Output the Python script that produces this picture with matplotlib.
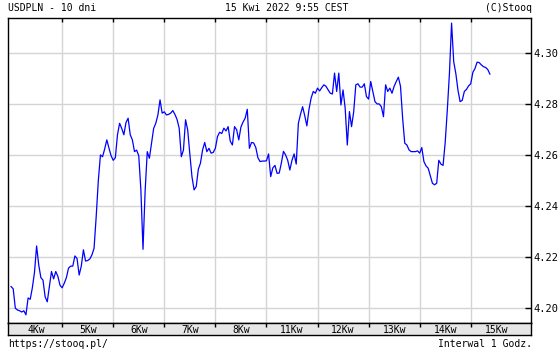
"""USDPLN 10-day hourly chart in the Stooq style."""
import matplotlib
matplotlib.use("Agg")
import matplotlib.pyplot as plt
import numpy as np

# hourly USDPLN quotes, one list per trading day
day_labels = ["4Kw", "5Kw", "6Kw", "7Kw", "8Kw", "11Kw", "12Kw", "13Kw", "14Kw", "15Kw"]
d04 = [4.2085, 4.2076, 4.2000, 4.1993, 4.1990, 4.1985, 4.1990, 4.1974, 4.2040, 4.2035, 4.2080, 4.2140,
       4.2244, 4.2170, 4.2120, 4.2110, 4.2045, 4.2025, 4.2085, 4.2144, 4.2115, 4.2144, 4.2125, 4.2090]
d05 = [4.2080, 4.2098, 4.2120, 4.2157, 4.2165, 4.2165, 4.2205, 4.2195, 4.2130, 4.2165, 4.2229, 4.2185,
       4.2187, 4.2193, 4.2209, 4.2235, 4.2359, 4.2500, 4.2601, 4.2594, 4.2625, 4.2660, 4.2628, 4.2598]
d06 = [4.2580, 4.2590, 4.2680, 4.2725, 4.2705, 4.2680, 4.2728, 4.2745, 4.2680, 4.2660, 4.2614, 4.2620,
       4.2598, 4.2464, 4.2231, 4.2460, 4.2614, 4.2588, 4.2647, 4.2705, 4.2725, 4.2758, 4.2817, 4.2765]
d07 = [4.2770, 4.2758, 4.2760, 4.2765, 4.2775, 4.2760, 4.2740, 4.2706, 4.2594, 4.2620, 4.2739, 4.2699,
       4.2605, 4.2516, 4.2464, 4.2477, 4.2545, 4.2569, 4.2621, 4.2650, 4.2614, 4.2627, 4.2608, 4.2611]
d08 = [4.2627, 4.2673, 4.2690, 4.2685, 4.2706, 4.2695, 4.2712, 4.2655, 4.2640, 4.2712, 4.2700, 4.2660,
       4.2710, 4.2730, 4.2745, 4.2780, 4.2627, 4.2650, 4.2648, 4.2630, 4.2590, 4.2575, 4.2577, 4.2577]
d11 = [4.2578, 4.2605, 4.2516, 4.2550, 4.2560, 4.2529, 4.2530, 4.2569, 4.2615, 4.2601, 4.2580, 4.2542,
       4.2580, 4.2605, 4.2565, 4.2725, 4.2760, 4.2790, 4.2755, 4.2715, 4.2780, 4.2824, 4.2850, 4.2843]
d12 = [4.2863, 4.2852, 4.2865, 4.2876, 4.2870, 4.2856, 4.2843, 4.2840, 4.2922, 4.2850, 4.2922, 4.2797,
       4.2856, 4.2784, 4.2640, 4.2771, 4.2712, 4.2770, 4.2876, 4.2880, 4.2867, 4.2867, 4.2880, 4.2830]
d13 = [4.2820, 4.2889, 4.2850, 4.2810, 4.2801, 4.2801, 4.2790, 4.2751, 4.2876, 4.2850, 4.2863, 4.2843,
       4.2870, 4.2889, 4.2906, 4.2870, 4.2745, 4.2647, 4.2640, 4.2621, 4.2614, 4.2614, 4.2614, 4.2617]
d14 = [4.2608, 4.2630, 4.2575, 4.2558, 4.2549, 4.2520, 4.2490, 4.2484, 4.2490, 4.2580, 4.2565, 4.2560,
       4.2650, 4.2778, 4.2922, 4.3118, 4.2967, 4.2920, 4.2855, 4.2810, 4.2815, 4.2850, 4.2858, 4.2872]
d15 = [4.2880, 4.2925, 4.2940, 4.2965, 4.2963, 4.2954, 4.2947, 4.2944, 4.2936, 4.2918]

prices = np.concatenate([d04, d05, d06, d07, d08, d11, d12, d13, d14, d15])
t = np.arange(len(prices)) / 24.0  # in days
y_ticks = [4.20, 4.22, 4.24, 4.26, 4.28, 4.30]

W, H = 560, 350
fig = plt.figure(figsize=(W / 100, H / 100), dpi=100)
fig.patch.set_facecolor("white")
mono = "DejaVu Sans Mono"

# main panel (pixel box 8..531 x 18..323)
ax = fig.add_axes([8 / W, 1 - 323 / H, 523 / W, 305 / H])
ax.plot(t, prices, color="#0000ff", lw=0.9)
ax.set_xlim(-0.06, 10.18)
ax.set_ylim(4.1942, 4.3138)
ax.set_xticks(range(1, 10))
ax.set_yticks(y_ticks)
ax.grid(color="#d4d4d4", lw=1.0)
ax.set_axisbelow(True)
ax.tick_params(axis="x", direction="in", top=True, bottom=False, labelbottom=False,
               length=3, width=1, color="black")
ax.tick_params(axis="y", direction="in", left=False, right=True, labelleft=False,
               labelright=True, length=4, width=1, color="black", pad=2, labelsize=7.5)
for lbl in ax.get_yticklabels():
    lbl.set_family(mono)
ax.yaxis.set_major_formatter(matplotlib.ticker.FormatStrFormatter("%.2f"))
for s in ax.spines.values():
    s.set_color("black")
    s.set_linewidth(1.0)

# day-label band under the panel
band = fig.add_axes([8 / W, 1 - 335 / H, 523 / W, 12 / H])
band.set_facecolor("#e6e6e6")
band.set_xlim(ax.get_xlim())
band.set_ylim(0, 1)
band.set_xticks(range(1, 10))
band.set_yticks([])
band.tick_params(axis="x", direction="in", top=True, bottom=False, labelbottom=False,
                 length=3, width=1, color="black")
for i, name in enumerate(day_labels):
    band.text(i + 0.5, 0.45, name, ha="center", va="center", fontsize=7, family=mono)
for s in band.spines.values():
    s.set_color("black")
    s.set_linewidth(1.0)

fig.text(8 / W, 1 - 8 / H, "USDPLN - 10 dni", ha="left", va="center", fontsize=7, family=mono)
fig.text(287 / W, 1 - 8 / H, "15 Kwi 2022 9:55 CEST", ha="center", va="center",
         fontsize=7, family=mono)
fig.text(532 / W, 1 - 8 / H, "(C)Stooq", ha="right", va="center", fontsize=7, family=mono)
fig.text(8 / W, 1 - 344 / H, "https://stooq.pl/", ha="left", va="center", fontsize=7, family=mono)
fig.text(532 / W, 1 - 344 / H, "Interwal 1 Godz.", ha="right", va="center", fontsize=7, family=mono)

fig.savefig("out.png", dpi=100)
plt.close(fig)
